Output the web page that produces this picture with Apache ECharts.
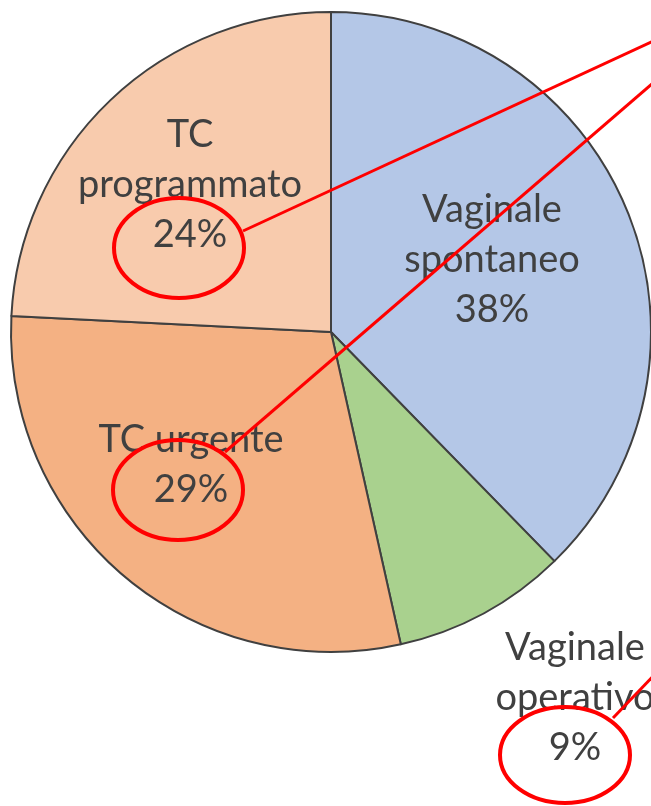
<!DOCTYPE html>
<html>
<head>
<meta charset="utf-8">
<script src="https://cdn.jsdelivr.net/npm/echarts@6/dist/echarts.min.js"></script>
<style>
html,body{margin:0;padding:0;background:#fff;}
#chart{width:651px;height:806px;}
</style>
</head>
<body>
<div id="chart"></div>
<script>
const categories = ['Vaginale spontaneo', 'Vaginale operativo', 'TC urgente', 'TC programmato'];
const values = [37.7, 8.8, 29.3, 24.2];
const labelNames = ['Vaginale\nspontaneo', 'Vaginale\noperativo', 'TC urgente', 'TC\nprogrammato'];
const colors = ['#B4C7E7', '#A9D18E', '#F4B183', '#F8CBAD'];
const labelCenters = [[492, 260], [575, 698], [191, 465], [190, 185]];

const chart = echarts.init(document.getElementById('chart'), null, {renderer: 'canvas'});
const red = '#FF0000';
const option = {
  animation: false,
  backgroundColor: '#ffffff',
  series: [{
    type: 'pie',
    center: [331, 332],
    radius: [0, 320],
    startAngle: 90,
    clockwise: true,
    avoidLabelOverlap: false,
    data: categories.map((c, i) => ({name: c, value: values[i], itemStyle: {color: colors[i]}})),
    itemStyle: {borderColor: '#404040', borderWidth: 2},
    emphasis: {disabled: true},
    label: {
      show: true,
      position: 'inside',
      formatter: p => labelNames[p.dataIndex] + '\n' + Math.round(p.value) + '%',
      fontFamily: 'Lato',
      fontSize: 38,
      lineHeight: 50,
      color: '#404040',
      align: 'center',
      verticalAlign: 'middle'
    },
    labelLine: {show: false},
    labelLayout: p => ({x: labelCenters[p.dataIndex][0], y: labelCenters[p.dataIndex][1], align: 'center', verticalAlign: 'middle'})
  }],
  graphic: [
    {type: 'ellipse', z: 100, shape: {cx: 179, cy: 248, rx: 65, ry: 50}, style: {fill: 'none', stroke: red, lineWidth: 4}},
    {type: 'ellipse', z: 100, shape: {cx: 178, cy: 490, rx: 65, ry: 50}, style: {fill: 'none', stroke: red, lineWidth: 4}},
    {type: 'ellipse', z: 100, shape: {cx: 565, cy: 755, rx: 65, ry: 48}, style: {fill: 'none', stroke: red, lineWidth: 4}},
    {type: 'line', z: 100, shape: {x1: 243, y1: 231, x2: 660, y2: 38}, style: {stroke: red, lineWidth: 3}},
    {type: 'line', z: 100, shape: {x1: 225, y1: 452, x2: 660, y2: 77}, style: {stroke: red, lineWidth: 3}},
    {type: 'line', z: 100, shape: {x1: 613, y1: 718, x2: 660, y2: 669}, style: {stroke: red, lineWidth: 3}}
  ]
};
chart.setOption(option);
</script>
</body>
</html>
